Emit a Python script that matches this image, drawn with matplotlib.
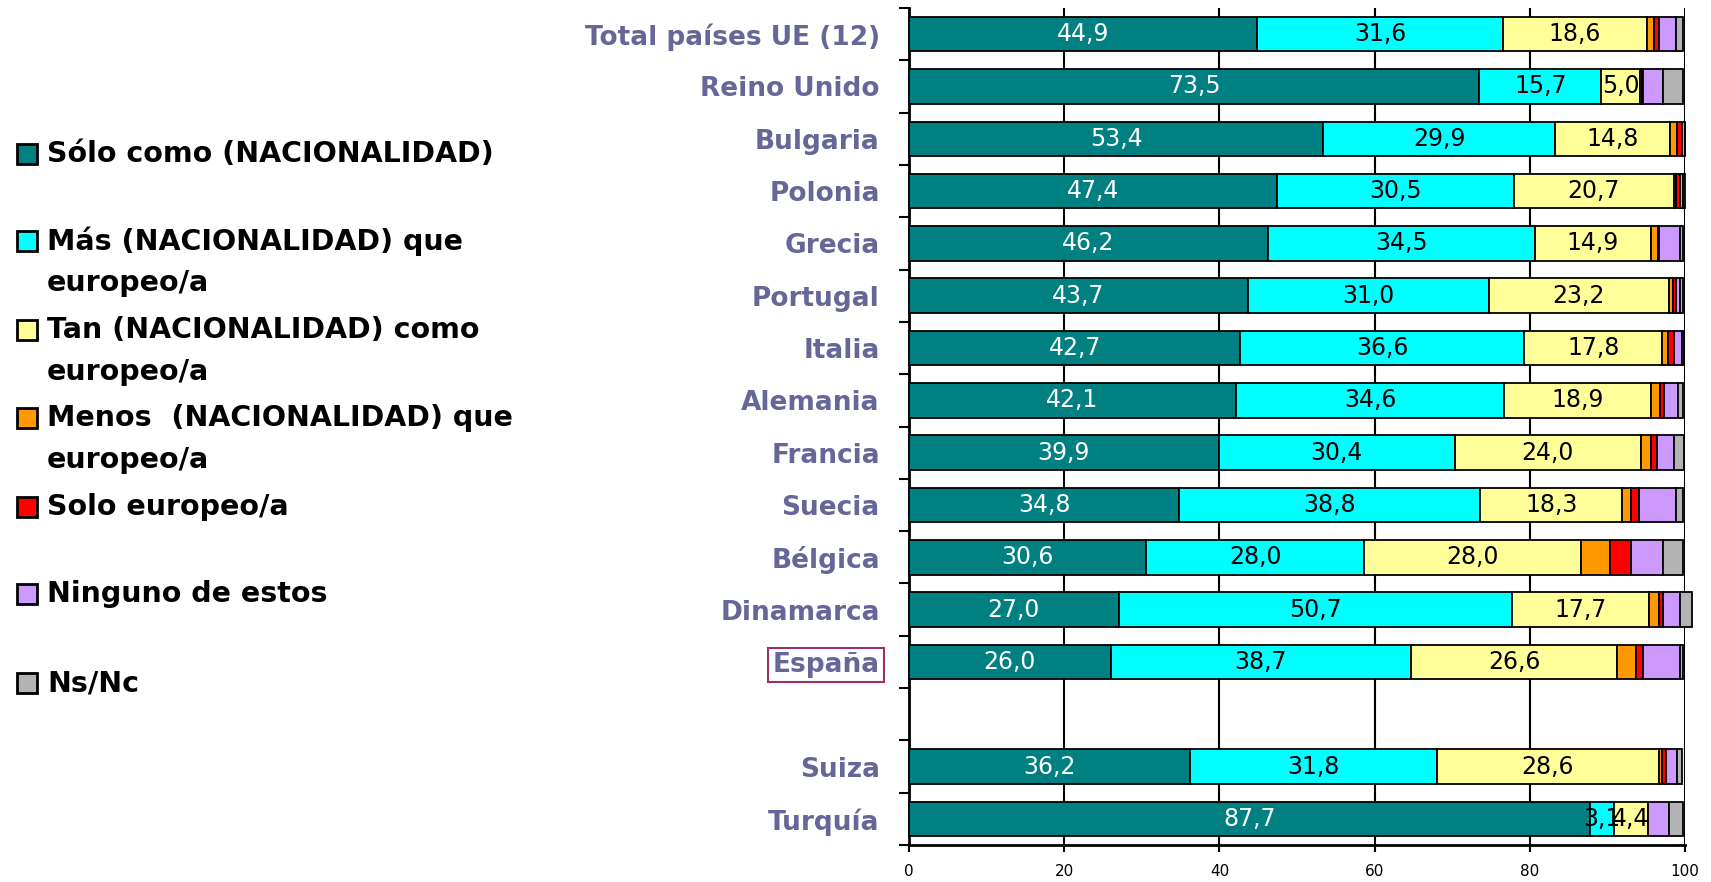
import matplotlib
matplotlib.use("Agg")
import matplotlib.pyplot as plt
from matplotlib.patches import Rectangle
import numpy as np

plt.rcParams['font.family'] = ['DejaVu Sans']

# data, top row first
paises = ['Total países UE (12)', 'Reino Unido', 'Bulgaria', 'Polonia', 'Grecia',
          'Portugal', 'Italia', 'Alemania', 'Francia', 'Suecia', 'Bélgica',
          'Dinamarca', 'España', 'Suiza', 'Turquía']

solo_nac  = [44.9, 73.5, 53.4, 47.4, 46.2, 43.7, 42.7, 42.1, 39.9, 34.8, 30.6, 27.0, 26.0, 36.2, 87.7]
mas_nac   = [31.6, 15.7, 29.9, 30.5, 34.5, 31.0, 36.6, 34.6, 30.4, 38.8, 28.0, 50.7, 38.7, 31.8, 3.1]
tan_nac   = [18.6, 5.0, 14.8, 20.7, 14.9, 23.2, 17.8, 18.9, 24.0, 18.3, 28.0, 17.7, 26.6, 28.6, 4.4]
menos_nac = [0.9, 0.2, 0.9, 0.3, 0.9, 0.5, 0.7, 1.2, 1.3, 1.2, 3.7, 1.3, 2.4, 0.4, 0.0]
solo_eur  = [0.7, 0.2, 0.6, 0.4, 0.2, 0.5, 0.8, 0.5, 0.8, 1.0, 2.8, 0.5, 0.9, 0.6, 0.0]
ninguno   = [2.1, 2.6, 0.4, 0.4, 2.6, 0.5, 1.0, 1.8, 2.2, 4.8, 4.1, 2.1, 4.8, 1.4, 2.7]
nsnc      = [0.9, 2.6, 0.0, 0.3, 0.5, 0.4, 0.3, 0.6, 1.3, 0.9, 2.6, 1.6, 0.3, 0.6, 1.9]

series = [solo_nac, mas_nac, tan_nac, menos_nac, solo_eur, ninguno, nsnc]
leyenda = ['Sólo como (NACIONALIDAD)',
           'Más (NACIONALIDAD) que\neuropeo/a',
           'Tan (NACIONALIDAD) como\neuropeo/a',
           'Menos  (NACIONALIDAD) que\neuropeo/a',
           'Solo europeo/a',
           'Ninguno de estos',
           'Ns/Nc']
colores = ['#008080', '#00FFFF', '#FFFF99', '#FF9900', '#FF0000', '#CC99FF', '#B3B3B3']
color_txt = ['white', 'black', 'black']

fig = plt.figure(figsize=(17.11, 8.82), dpi=100)
ax = fig.add_axes([909/1711, 1 - 845/882, (1685 - 909)/1711, (845 - 8)/882])

n = len(paises)
# empty slot between España and Suiza
ypos = np.arange(n) + (np.arange(n) > 12)

left = np.zeros(n)
for k, vals in enumerate(series):
    vals = np.array(vals)
    ax.barh(ypos, vals, left=left, height=0.66, color=colores[k],
            edgecolor='black', linewidth=1.3, clip_on=False, zorder=3)
    if k < 3:
        for y, l, v in zip(ypos, left, vals):
            ax.text(l + v/2, y, f'{v:.1f}'.replace('.', ','), ha='center', va='center',
                    fontsize=17, color=color_txt[k], zorder=5)
    left += vals

ax.set_xlim(0, 100)
ax.set_ylim(15.5, -0.5)
ax.set_xticks(np.arange(0, 101, 20))
ax.tick_params(axis='x', labelsize=11, length=5, width=1.5, direction='out', pad=9)
ax.xaxis.grid(True, color='black', linewidth=1.5, zorder=0)
ax.set_axisbelow(True)

ax.set_yticks(ypos)
ax.set_yticklabels(paises, fontsize=19, fontweight='bold', color='#666699')
ax.tick_params(axis='y', length=0, pad=21)
ax.set_yticks(np.arange(-0.5, 16, 1), minor=True)
ax.tick_params(axis='y', which='minor', length=7, width=1.5, direction='out')

for lbl in ax.get_yticklabels():
    if lbl.get_text() == 'España':
        lbl.set_bbox(dict(facecolor='white', edgecolor='#993366', linewidth=1.5, pad=3))

for s in ['top', 'right']:
    ax.spines[s].set_visible(False)
ax.spines['left'].set_linewidth(2)
ax.spines['bottom'].set_linewidth(2)

# legend drawn by hand on the left
line_y = [154, 241, 330, 418, 507, 594, 683]
for lab, col, y in zip(leyenda, colores, line_y):
    fig.patches.append(Rectangle((17/1711, 1 - (y + 10)/882), 20/1711, 20/882,
                                 transform=fig.transFigure, facecolor=col,
                                 edgecolor='black', linewidth=2))
    for j, part in enumerate(lab.split('\n')):
        fig.text(47/1711, 1 - (y + j*42)/882, part, fontsize=20.5, fontweight='bold',
                 ha='left', va='center', color='black')

fig.savefig('out.png', dpi=100)
